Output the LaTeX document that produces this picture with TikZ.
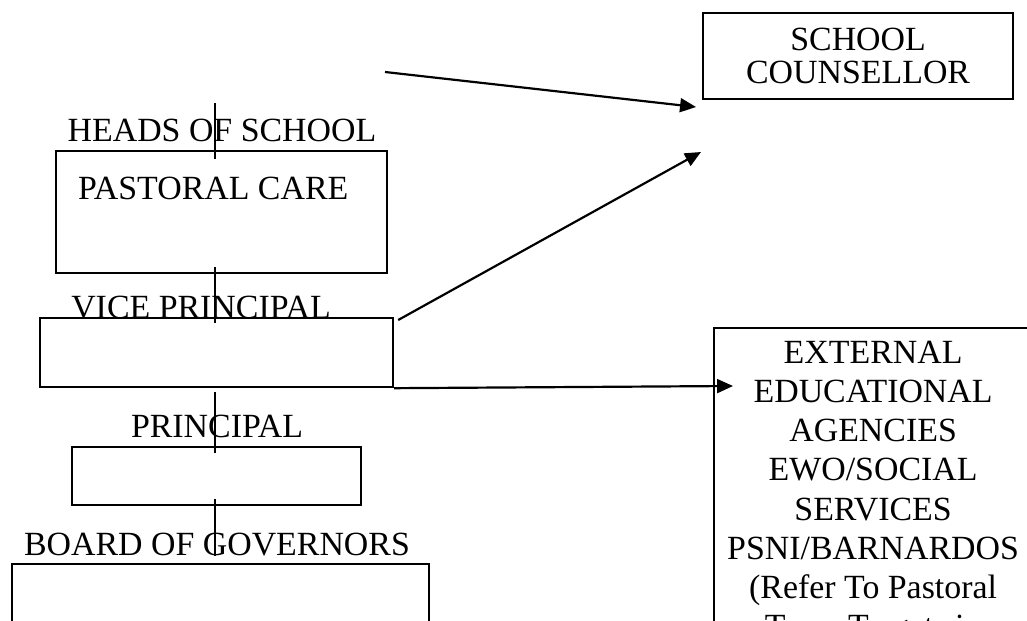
\documentclass[tikz,border=0pt]{standalone}
\usepackage{fontspec}
\setmainfont{Liberation Serif}
\usepackage{tikz}
\usetikzlibrary{arrows.meta}

\tikzset{
	title/.style={font=\fontsize{34}{39}\selectfont, inner sep=0pt, anchor=base},
	box/.style={draw, fill=white, line width=2.2pt, inner sep=0pt, anchor=north west},
	link/.style={line width=2.2pt},
	pointer/.style={line width=2.2pt, -{Triangle[length=16pt, width=14pt]}}
}

\begin{document}
\begin{tikzpicture}[x=1bp, y=-1bp]
	\useasboundingbox (0,0) rectangle (1027,621);
	\clip (0,0) rectangle (1027,621);

	% titles above the boxes
	\node[title] (heads) at (222,142) {HEADS OF SCHOOL};
	\node[title] (vicet) at (201,318) {VICE PRINCIPAL};
	\node[title] (princt) at (217,437) {PRINCIPAL};
	\node[title] (boardt) at (217,555) {BOARD OF GOVERNORS};

	% the chain of boxes
	\node[box, minimum width=331bp, minimum height=122bp] (pastoral) at (55,150) {};
	\node[title, anchor=base west] (pastoralt) at (78,200) {PASTORAL CARE};
	\node[box, minimum width=353bp, minimum height=69bp] (vice) at (39,317) {};
	\node[box, minimum width=289bp, minimum height=58bp] (princ) at (71,446) {};
	\node[box, minimum width=417bp, minimum height=90bp] (board) at (11,563) {};

	% boxes on the right
	\node[box, minimum width=310bp, minimum height=86bp, align=center,
		font=\fontsize{34}{33}\selectfont] (counsellor) at (702,12) {SCHOOL\\COUNSELLOR};
	\node[box, minimum width=318bp, inner ysep=13bp, align=center,
		font=\fontsize{34}{39.3}\selectfont] (external) at (713,327)
		{EXTERNAL\\EDUCATIONAL\\AGENCIES\\EWO/SOCIAL\\SERVICES\\PSNI/BARNARDOS\\(Refer To Pastoral\\Team Targets in};

	% short uprights between the levels
	\coordinate (u1) at (215,103);
	\coordinate (d1) at (215,159);
	\coordinate (u2) at (215,267);
	\coordinate (d2) at (215,323);
	\coordinate (u3) at (215,392);
	\coordinate (d3) at (215,453);
	\coordinate (u4) at (215,499);
	\coordinate (d4) at (215,556);
	\draw[link] (u1) -- (d1);
	\draw[link] (u2) -- (d2);
	\draw[link] (u3) -- (d3);
	\draw[link] (u4) -- (d4);

	% arrows
	\coordinate (from1) at (385,72);
	\coordinate (to1) at (696,107);
	\coordinate (to2) at (701,152);
	\coordinate (to3) at (733,386);
	\draw[pointer] (from1) -- (to1);
	\draw[pointer] ([xshift=4bp, yshift=-3bp]vice.north east) -- (to2);
	\draw[pointer] (vice.south east) -- (to3);
\end{tikzpicture}
\end{document}
